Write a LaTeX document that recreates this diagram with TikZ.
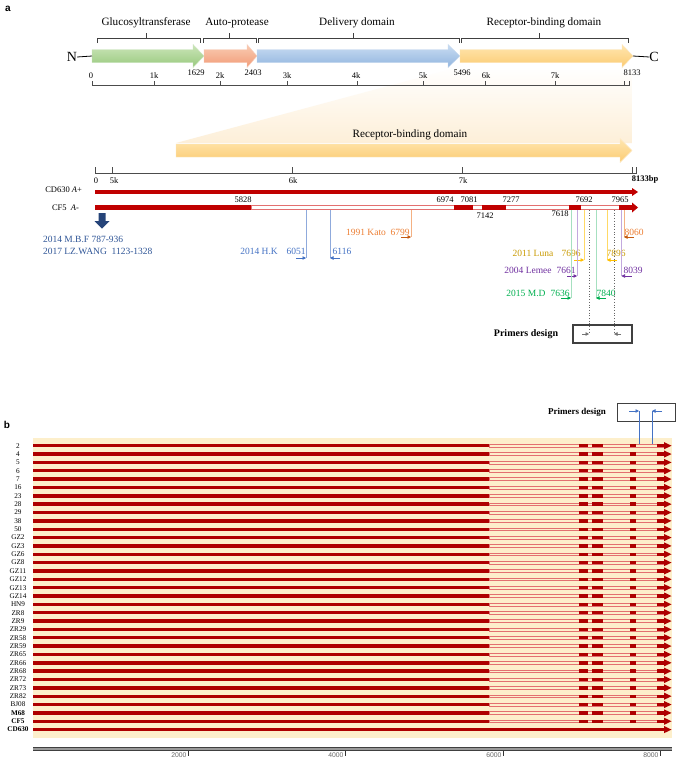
\documentclass[tikz,border=0pt]{standalone}
\usepackage{fontspec}
\setmainfont{Liberation Serif}
\newfontfamily\sansf{Liberation Sans}
\usetikzlibrary{arrows.meta}
\definecolor{dred}{HTML}{C00000}
\definecolor{bred}{HTML}{AE0000}
\definecolor{hollow}{HTML}{E37070}
\definecolor{fanc}{HTML}{FDEFD8}
\definecolor{g1}{HTML}{CBE5B8}\definecolor{g2}{HTML}{98C97E}
\definecolor{o1}{HTML}{F9CBB2}\definecolor{o2}{HTML}{F29C78}
\definecolor{b1}{HTML}{C9DCF2}\definecolor{b2}{HTML}{91B5DF}
\definecolor{y1}{HTML}{FFE6B0}\definecolor{y2}{HTML}{FBCB72}
\definecolor{mbf}{HTML}{2F5597}
\definecolor{hkc}{HTML}{4472C4}\definecolor{hkl}{HTML}{8FAADC}
\definecolor{katc}{HTML}{ED7D31}\definecolor{katd}{HTML}{C55A11}\definecolor{katl}{HTML}{F4B183}
\definecolor{lunc}{HTML}{C99A00}\definecolor{lund}{HTML}{FFC000}\definecolor{lunl}{HTML}{FFD966}
\definecolor{lemc}{HTML}{7030A0}\definecolor{leml}{HTML}{C3A9DE}
\definecolor{mdc}{HTML}{00B050}\definecolor{mdl}{HTML}{A6E0C0}
\definecolor{bgb}{HTML}{FDEFCB}
\newcommand\blockarr[7]{\path[#1] (#2,#5-#6) -- (#3,#5-#6) -- (#3,#5-#7) -- (#4,#5) -- (#3,#5+#7) -- (#3,#5+#6) -- (#2,#5+#6) -- cycle;}
% forward primer: line colour, arrow colour, x, y-end
\newcommand\fwdp[4]{\draw[#1,line width=0.6pt] (#3,210) -- (#3,#4);\draw[tip,#2,line width=0.6pt] (#3-10,#4) -- (#3,#4);}
\newcommand\revp[4]{\draw[#1,line width=0.6pt] (#3,210) -- (#3,#4);\draw[tip,#2,line width=0.6pt] (#3+10,#4) -- (#3,#4);}
\begin{document}
\begin{tikzpicture}[x=1pt,y=-1pt,
  every node/.style={inner sep=0pt,outer sep=0pt},
  f10/.style={font=\fontsize{11.2}{13}\selectfont},
  f8/.style={font=\fontsize{8.5}{10}\selectfont},
  f9/.style={font=\fontsize{9.5}{11}\selectfont},
  brk/.style={draw=black!75,line width=0.7pt},
  axl/.style={draw=black!70,line width=0.7pt},
  tip/.style={-{Triangle[length=3.5pt,width=3.5pt]}},
]
\useasboundingbox[fill=white] (0,0) rectangle (676,758);

% ---------- panel a ----------
\node[font=\sansf\bfseries\fontsize{10}{12}\selectfont] (la) at (8,9) {a};

% fan
\shade[top color=white,bottom color=fanc] (459,67) -- (632,67) -- (632,143) -- (176,143) -- cycle;

% domain labels and brackets
\node[f10] (gt) at (146,23) {Glucosyltransferase};
\node[f10] (ap) at (237,23) {Auto-protease};
\node[f10] (dd) at (357,23) {Delivery domain};
\node[f10] (rb) at (544,23) {Receptor-binding domain};
\draw[brk] (97,43) -- (97,38) -- (200,38) -- (200,43); \draw[brk] (146,38) -- (146,33);
\draw[brk] (203,43) -- (203,38) -- (256,38) -- (256,43); \draw[brk] (229,38) -- (229,33);
\draw[brk] (258,43) -- (258,38) -- (459,38) -- (459,43); \draw[brk] (353,38) -- (353,33);
\draw[brk] (461,43) -- (461,38) -- (628,38) -- (628,43); \draw[brk] (539,38) -- (539,33);

% domain arrows
\blockarr{top color=g1,bottom color=g2,draw=g2!50!white,line width=0.4pt}{92}{193}{204}{56}{6.5}{11.5}
\blockarr{top color=o1,bottom color=o2,draw=o2!50!white,line width=0.4pt}{204}{247}{257}{56}{6.5}{11.5}
\blockarr{top color=b1,bottom color=b2,draw=b2!50!white,line width=0.4pt}{257}{448}{460}{56}{6.5}{11.5}
\blockarr{top color=y1,bottom color=y2,draw=y2!50!white,line width=0.4pt}{460}{622}{633}{56}{6.5}{11.5}
\node[font=\fontsize{14}{16}\selectfont] (nN) at (72,57) {N};
\node[font=\fontsize{14}{16}\selectfont] (nC) at (654,57) {C};
\draw[line width=0.8pt] (nN.east) -- (92,56);
\draw[line width=0.8pt] (633,56) -- (nC.west);

% top axis
\draw[axl] (92,81) -- (92,85) -- (629,85) -- (629,81);
\foreach \x in {154,220,287,357,423,485,555,624} \draw[axl] (\x,85) -- (\x,81);
\node[f8] at (91,76) {0};
\node[f8] at (154,76) {1k};
\node[f8] at (196,73) {1629};
\node[f8] at (220,76) {2k};
\node[f8] at (253,73) {2403};
\node[f8] at (287,76) {3k};
\node[f8] at (356,76) {4k};
\node[f8] at (423,76) {5k};
\node[f8] at (462,73) {5496};
\node[f8] at (486,76) {6k};
\node[f8] at (555,76) {7k};
\node[f8] at (632,73) {8133};

% receptor-binding domain zoom arrow
\blockarr{top color=y1,bottom color=y2,draw=y2!40!white,line width=0.4pt}{176}{620}{632}{150.5}{6.5}{12}
\node[f10] (rbz) at (410,135) {Receptor-binding domain};

% second axis
\draw[axl] (95,167) -- (95,173) -- (636,173) -- (636,167);
\foreach \x in {112,292,462,632} \draw[axl] (\x,173) -- (\x,167);
\node[f8] at (96,181) {0};
\node[f8] at (114,181) {5k};
\node[f8] at (293,181) {6k};
\node[f8] at (463,181) {7k};
\node[font=\fontsize{8.5}{10}\selectfont\bfseries] at (645,179) {8133bp};

% CD630 row
\node[f8,anchor=east] (cd) at (82,190) {CD630 \textit{A}+};
\fill[dred] (95,190) rectangle (632,194);
\fill[dred] (632,188) -- (638,192) -- (632,196) -- cycle;

% CF5 row
\node[f8,anchor=east] (cf) at (79,208) {CF5\ \ \textit{A}-};
\draw[hollow,line width=0.6pt,fill=white] (251,205.3) rectangle (620,209.7);
\fill[dred] (95,205) rectangle (251,210);
\fill[dred] (454,205) rectangle (473,210);
\fill[dred] (482,205) rectangle (506,210);
\fill[dred] (569,205) rectangle (581,210);
\fill[dred] (619,205) rectangle (632,210);
\fill[dred] (632,202.5) -- (638,207.5) -- (632,212.5) -- cycle;
\node[f8] at (243,200) {5828};
\node[f8] at (445,200) {6974};
\node[f8] at (469,200) {7081};
\node[f8] at (511,200) {7277};
\node[f8] at (584,200) {7692};
\node[f8] at (620,200) {7965};
\node[f8] at (485,215.5) {7142};
\node[f8] at (560,214) {7618};

% big blue arrow and literature
\path[fill=mbf!80!black] (98.5,213) -- (105.5,213) -- (105.5,221) -- (109.5,221) -- (102,228.5) -- (94.5,221) -- (98.5,221) -- cycle;
\node[f9,anchor=west,text=mbf] (mbf1) at (43,239) {2014 M.B.F 787-936};
\node[f9,anchor=west,text=mbf] (mbf2) at (43,251) {2017 LZ.WANG\ \ 1123-1328};

% H.K
\node[f9,text=hkc] (hk) at (259,251) {2014 H.K};
\node[f9,text=hkc] at (296,251) {6051};
\node[f9,text=hkc] at (342,251) {6116};
\fwdp{hkl}{hkc}{306}{258}
\revp{hkl}{hkc}{330}{258}

% Kato
\node[f9,text=katc] (kat) at (366,232) {1991 Kato};
\node[f9,text=katc] at (400,232) {6799};
\node[f9,text=katc] at (634,232) {8060};
\fwdp{katl}{katd}{411}{237}
\revp{katl}{katd}{624}{237}

% Luna
\node[f9,text=lunc] (lun) at (533,253) {2011 Luna};
\node[f9,text=lunc] at (571,253) {7696};
\node[f9,text=lunc] at (616,253) {7896};
\fwdp{lunl}{lund}{584}{260}
\revp{lunl}{lund}{607}{260}

% Lemee
\node[f9,text=lemc] (lem) at (528,270) {2004 Lemee};
\node[f9,text=lemc] at (566,270) {7661};
\node[f9,text=lemc] at (633,270) {8039};
\fwdp{leml}{lemc}{577}{276}
\revp{leml}{lemc}{621.5}{276}

% M.D
\node[f9,text=mdc] (md) at (526,293) {2015 M.D};
\node[f9,text=mdc] at (560,293) {7636};
\node[f9,text=mdc] at (606,293) {7840};
\fwdp{mdl}{mdc}{571}{298}
\revp{mdl}{mdc}{596}{298}

% primers design (a)
\node[font=\fontsize{10}{12}\selectfont\bfseries] (pda) at (526,334) {Primers design};
\draw[black!75,line width=1.2pt] (573,325) rectangle (632,343);
\draw[black!60,dotted,line width=0.7pt] (589,210) -- (589,334);
\draw[black!60,dotted,line width=0.7pt] (614,210) -- (614,334);
\draw[tip,black!55,line width=0.5pt] (582,334) -- (589,334);
\draw[tip,black!55,line width=0.5pt] (621,334) -- (614,334);

% ---------- panel b ----------
\node[font=\sansf\bfseries\fontsize{10}{12}\selectfont] (lb) at (7,425) {b};
\fill[bgb] (33,437.5) rectangle (672,738);

\foreach \nm [count=\i from 0] in {2,4,5,6,7,16,23,28,29,38,50,GZ2,GZ3,GZ6,GZ8,GZ11,GZ12,GZ13,GZ14,HN9,ZR8,ZR9,ZR29,ZR58,ZR59,ZR65,ZR66,ZR68,ZR72,ZR73,ZR82,BJ08,\textbf{M68},\textbf{CF5},\textbf{CD630}}{
  \pgfmathsetmacro\yy{445.7+8.35*\i}
  \node[font=\fontsize{7.2}{8}\selectfont] at (18,\yy) {\nm};
  \ifnum\i<34
    \draw[hollow,line width=0.5pt] (489,\yy-1.4) rectangle (664,\yy+1.4);
    \fill[bred] (33,\yy-1.7) rectangle (489,\yy+1.7);
    \fill[bred] (579,\yy-1.7) rectangle (588,\yy+1.7);
    \fill[bred] (592,\yy-1.7) rectangle (603,\yy+1.7);
    \fill[bred] (630,\yy-1.7) rectangle (636,\yy+1.7);
    \fill[bred] (657,\yy-1.7) rectangle (664,\yy+1.7);
  \else
    \fill[bred] (33,\yy-1.7) rectangle (664,\yy+1.7);
  \fi
  \fill[bred] (664,\yy-3.6) -- (671.5,\yy) -- (664,\yy+3.6) -- cycle;
}

% primers design (b)
\node[font=\fontsize{9}{10}\selectfont\bfseries] (pdb) at (577,412) {Primers design};
\draw[black!75,line width=1pt] (617,403.5) rectangle (675,421);
\draw[hkc,line width=0.8pt] (639,411) -- (639,444);
\draw[hkc,line width=0.8pt] (652,411) -- (652,444);
\draw[tip,hkc,line width=0.8pt] (629,411) -- (639,411);
\draw[tip,hkc,line width=0.8pt] (662,411) -- (652,411);

% bottom axis
\fill[black!40] (33,746.6) rectangle (672,750.4);
\draw[black!75,line width=0.6pt] (33,746.8) -- (672,746.8);
\draw[black!75,line width=0.6pt] (33,750.2) -- (672,750.2);
\foreach \x/\t in {188/2000,345/4000,503/6000,660/8000}{
  \draw[black!80,line width=0.7pt] (\x,751) -- (\x,756);
  \node[font=\sansf\fontsize{6.8}{7}\selectfont,text=black!60,anchor=east] at (\x-1.5,755) {\t};
}
\end{tikzpicture}
\end{document}
